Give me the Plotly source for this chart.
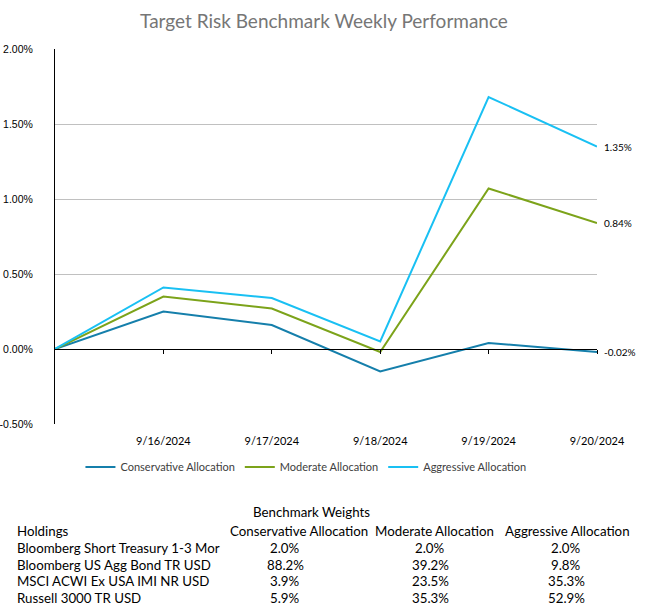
import plotly.graph_objects as go

# ---------------- data ----------------
dates = ["", "9/16/2024", "9/17/2024", "9/18/2024", "9/19/2024", "9/20/2024"]
conservative = [0.00, 0.25, 0.16, -0.15, 0.04, -0.02]
moderate = [0.00, 0.35, 0.27, -0.02, 1.07, 0.84]
aggressive = [0.00, 0.41, 0.34, 0.05, 1.68, 1.35]
series_names = ["Conservative Allocation", "Moderate Allocation", "Aggressive Allocation"]
series_colors = ["#157FAB", "#7CA31A", "#19C0F3"]

holdings = ["Bloomberg Short Treasury 1-3 Mor", "Bloomberg US Agg Bond TR USD",
            "MSCI ACWI Ex USA IMI NR USD", "Russell 3000 TR USD"]
w_conservative = [2.0, 88.2, 3.9, 5.9]
w_moderate = [2.0, 39.2, 23.5, 35.3]
w_aggressive = [2.0, 9.8, 35.3, 52.9]

y_ticks = [-0.5, 0.0, 0.5, 1.0, 1.5, 2.0]

# ---------------- layout geometry ----------------
W, H = 648, 608
L, R, T, B = 55, 51, 49, 184
PW, PH = W - L - R, H - T - B
ymin, ymax = -0.5, 2.0
idx = list(range(len(dates)))


def px_x(px):
    return (px - L) / PW


def px_y(py):
    return (H - B - py) / PH


fig = go.Figure()
end_labels = []
for name, vals, col in zip(series_names, [conservative, moderate, aggressive], series_colors):
    fig.add_trace(go.Scatter(
        x=idx, y=vals, name=name, mode="lines",
        line=dict(color=col, width=2),
        cliponaxis=False, hoverinfo="skip",
    ))
    end_labels.append(dict(text=f"{vals[-1]:.2f}%", x=idx[-1], y=vals[-1], xref="x", yref="y",
                           xanchor="left", yanchor="middle", xshift=5, showarrow=False,
                           font=dict(family="Lato", size=10, color="#000000")))

# dummy trace to carry the bottom label axis
fig.add_trace(go.Scatter(x=idx, y=[None] * len(idx), xaxis="x2", showlegend=False,
                         hoverinfo="skip", mode="lines"))

fig.update_layout(
    width=W, height=H,
    margin=dict(l=L, r=R, t=T, b=B, autoexpand=False),
    paper_bgcolor="white", plot_bgcolor="white",
    title=dict(text="Target Risk Benchmark Weekly Performance", x=0.5, xanchor="center",
               y=1 - 21 / H, yanchor="middle",
               font=dict(family="Lato", size=19, color="#767676")),
    xaxis=dict(range=[idx[0], idx[-1]], anchor="free", position=(0 - ymin) / (ymax - ymin),
               showline=True, linecolor="#000000", linewidth=1,
               tickvals=idx[1:], ticks="outside", ticklen=4, tickcolor="#000000",
               showticklabels=False, showgrid=False, zeroline=False, automargin=False),
    xaxis2=dict(range=[idx[0], idx[-1]], overlaying="x", anchor="y", side="bottom",
                tickvals=idx, ticktext=dates, showline=False, showgrid=False,
                zeroline=False, ticks="", ticklabelstandoff=9, automargin=False,
                tickfont=dict(family="Lato", size=11, color="#000000")),
    yaxis=dict(range=[ymin, ymax], tickvals=y_ticks,
               ticktext=[f"{v:.2f}%" for v in y_ticks],
               showline=True, linecolor="#000000", linewidth=1,
               showgrid=True, gridcolor="#C0C0C0", gridwidth=1, zeroline=False,
               tickfont=dict(family="Liberation Sans", size=10.5, color="#000000"),
               ticks="", ticklabelstandoff=19, automargin=False),
    legend=dict(orientation="h", x=0.463, xanchor="center", y=px_y(467), yanchor="middle",
                font=dict(family="Lato", size=11, color="#404040"), itemwidth=30,
                bgcolor="rgba(0,0,0,0)"),
    showlegend=True,
)

# ---------------- weights table ----------------
tfont = dict(family="Lato", size=13.3, color="#000000")
annots = []
annots.append(dict(text="Benchmark Weights", x=px_x(311), y=px_y(512), xanchor="center"))
annots.append(dict(text="Holdings", x=px_x(15), y=px_y(531), xanchor="left"))
col_hdr_x = [299, 434, 567]
col_val_x = [285, 430, 566]
for name, cx in zip(series_names, col_hdr_x):
    annots.append(dict(text=name, x=px_x(cx), y=px_y(531), xanchor="center"))
row_y = [548, 565, 581, 598]
for i, h in enumerate(holdings):
    annots.append(dict(text=h, x=px_x(15), y=px_y(row_y[i]), xanchor="left"))
    for cx, wv in zip(col_val_x, [w_conservative, w_moderate, w_aggressive]):
        annots.append(dict(text=f"{wv[i]:.1f}%", x=px_x(cx), y=px_y(row_y[i]), xanchor="center"))
for a in annots:
    a.update(xref="paper", yref="paper", yanchor="middle", showarrow=False, font=tfont)
fig.update_layout(annotations=annots + end_labels)

fig.write_html("out.html", config={"displayModeBar": False},
               post_script="document.body.style.margin='0';document.body.style.padding='0';document.body.style.overflow='hidden';")
